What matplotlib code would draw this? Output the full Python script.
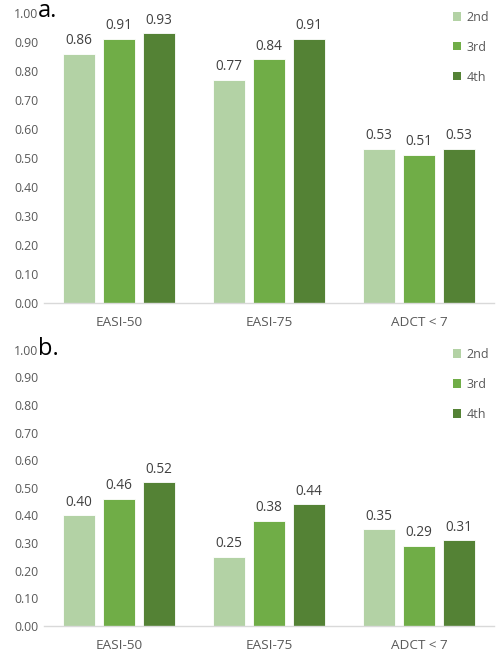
"""Two-panel grouped bar chart (a. / b.) — EASI-50, EASI-75, ADCT < 7 by dose."""

import matplotlib.pyplot as plt
import numpy as np
from matplotlib.patches import Patch

CATEGORIES = ["EASI-50", "EASI-75", "ADCT < 7"]
SERIES = ["2nd", "3rd", "4th"]

# panel a.
A_2ND = [0.86, 0.77, 0.53]
A_3RD = [0.91, 0.84, 0.51]
A_4TH = [0.93, 0.91, 0.53]

# panel b.
B_2ND = [0.40, 0.25, 0.35]
B_3RD = [0.46, 0.38, 0.29]
B_4TH = [0.52, 0.44, 0.31]

Y_TICKS = [0.0, 0.1, 0.2, 0.3, 0.4, 0.5, 0.6, 0.7, 0.8, 0.9, 1.0]

COLORS = ["#b3d2a5", "#70ad47", "#548235"]
TICK_GREY = "#595959"
LABEL_GREY = "#404040"

plt.rcParams["font.family"] = ["Open Sans", "DejaVu Sans"]


def draw_panel(ax, rows, letter, letter_y):
    x = np.arange(len(CATEGORIES))
    width = 0.213
    offsets = [-0.267, 0.0, 0.267]
    for vals, off, color in zip(rows, offsets, COLORS):
        bars = ax.bar(x + off, vals, width=width, color=color, edgecolor="white", linewidth=0.6)
        for b, v in zip(bars, vals):
            ax.text(b.get_x() + b.get_width() / 2, v + 0.02, f"{v:.2f}",
                    ha="center", va="bottom", fontsize=9.8, color=LABEL_GREY, clip_on=False)
    ax.set_xlim(-0.5, len(CATEGORIES) - 0.5)
    ax.set_ylim(0, 1.0)
    ax.set_yticks(Y_TICKS)
    ax.set_yticklabels([f"{t:.2f}" for t in Y_TICKS])
    ax.set_xticks(x)
    ax.set_xticklabels(CATEGORIES)
    ax.tick_params(axis="both", length=0, labelcolor=TICK_GREY)
    ax.tick_params(axis="x", pad=9.5, labelsize=9.7)
    ax.tick_params(axis="y", pad=4, labelsize=8.8)
    for s in ("top", "right", "left"):
        ax.spines[s].set_visible(False)
    ax.spines["bottom"].set_color("#d9d9d9")
    ax.spines["bottom"].set_linewidth(1.0)
    ax.text(-0.014, letter_y, letter, transform=ax.transAxes, fontsize=17, color="black",
            ha="left", va="baseline")
    handles = [Patch(facecolor=c, edgecolor="none") for c in COLORS]
    ax.legend(handles, SERIES, loc="upper right", bbox_to_anchor=(1.0, 1.025), frameon=False,
              fontsize=9, labelcolor=TICK_GREY, handlelength=0.65, handleheight=0.65,
              handletextpad=0.4, labelspacing=1.35, borderaxespad=0)


fig = plt.figure(figsize=(4.98, 6.54), dpi=100)
ax_a = fig.add_axes([0.088, 0.537, 0.904, 0.443])
ax_b = fig.add_axes([0.088, 0.043, 0.904, 0.422])

draw_panel(ax_a, [A_2ND, A_3RD, A_4TH], "a.", 0.986)
draw_panel(ax_b, [B_2ND, B_3RD, B_4TH], "b.", 0.982)

fig.savefig("out.png", dpi=100)
